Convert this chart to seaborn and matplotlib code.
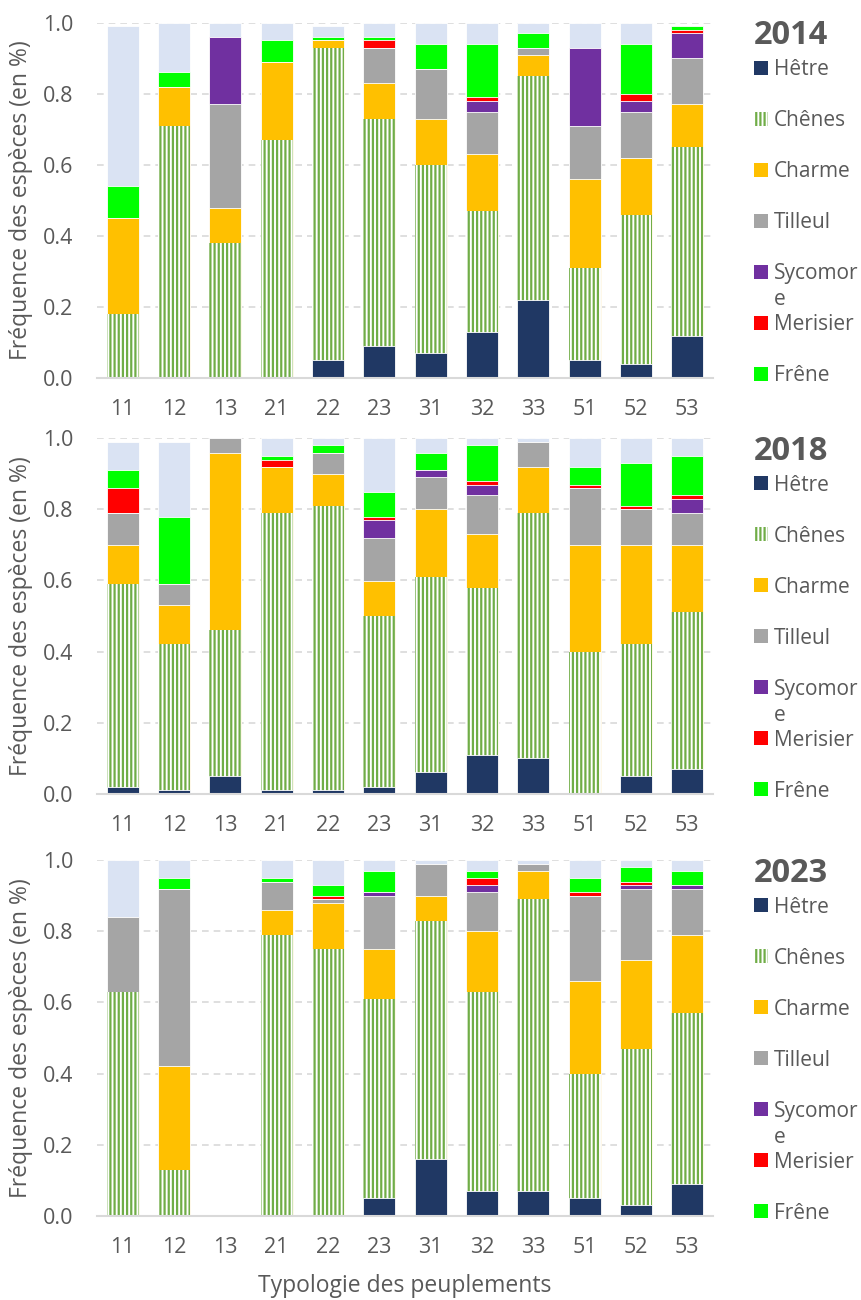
import numpy as np
import pandas as pd
import matplotlib.pyplot as plt
import seaborn as sns
from matplotlib.patches import Rectangle

# Typologies des peuplements (axe x)
typologies = ['11', '12', '13', '21', '22', '23', '31', '32', '33', '51', '52', '53']
especes = ['Hêtre', 'Chênes', 'Charme', 'Tilleul', 'Sycomore', 'Merisier', 'Frêne', 'Autres']

# Fréquences, une liste par espèce
freq_2014 = {
    'Hêtre':    [0, 0, 0, 0, .05, .09, .07, .13, .22, .05, .04, .12],
    'Chênes':   [.18, .71, .38, .67, .88, .64, .53, .34, .63, .26, .42, .53],
    'Charme':   [.27, .11, .10, .22, .02, .10, .13, .16, .06, .25, .16, .12],
    'Tilleul':  [0, 0, .29, 0, 0, .10, .14, .12, .02, .15, .13, .13],
    'Sycomore': [0, 0, .19, 0, 0, 0, 0, .03, 0, .22, .03, .07],
    'Merisier': [0, 0, 0, 0, 0, .02, 0, .01, 0, 0, .02, .01],
    'Frêne':    [.09, .04, 0, .06, .01, .01, .07, .15, .04, 0, .14, .01],
    'Autres':   [.45, .14, .04, .05, .03, .04, .06, .06, .03, .07, .06, 0],
}

freq_2018 = {
    'Hêtre':    [.02, .01, .05, .01, .01, .02, .06, .11, .10, 0, .05, .07],
    'Chênes':   [.57, .41, .41, .78, .80, .48, .55, .47, .69, .40, .37, .44],
    'Charme':   [.11, .11, .50, .13, .09, .10, .19, .15, .13, .30, .28, .19],
    'Tilleul':  [.09, .06, .04, 0, .06, .12, .09, .11, .07, .16, .10, .09],
    'Sycomore': [0, 0, 0, 0, 0, .05, .02, .03, 0, 0, 0, .04],
    'Merisier': [.07, 0, 0, .02, 0, .01, 0, .01, 0, .01, .01, .01],
    'Frêne':    [.05, .19, 0, .01, .02, .07, .05, .10, 0, .05, .12, .11],
    'Autres':   [.08, .21, 0, .05, .02, .15, .04, .02, .01, .08, .07, .05],
}

freq_2023 = {
    'Hêtre':    [0, 0, 0, 0, 0, .05, .16, .07, .07, .05, .03, .09],
    'Chênes':   [.63, .13, 0, .79, .75, .56, .67, .56, .82, .35, .44, .48],
    'Charme':   [0, .29, 0, .07, .13, .14, .07, .17, .08, .26, .25, .22],
    'Tilleul':  [.21, .50, 0, .08, .01, .15, .09, .11, .02, .24, .20, .13],
    'Sycomore': [0, 0, 0, 0, 0, .01, 0, .02, 0, 0, .01, .01],
    'Merisier': [0, 0, 0, 0, .01, 0, 0, .02, 0, .01, .01, 0],
    'Frêne':    [0, .03, 0, .01, .03, .06, 0, .02, 0, .04, .04, .04],
    'Autres':   [.16, .05, 0, .05, .07, .03, .01, .03, .01, .05, .02, .03],
}

couleurs = {
    'Hêtre': '#203864',
    'Chênes': '#70AD47',
    'Charme': '#FFC000',
    'Tilleul': '#A5A5A5',
    'Sycomore': '#7030A0',
    'Merisier': '#FF0000',
    'Frêne': '#00FF00',
    'Autres': '#DAE3F3',
}

gris_texte = '#595959'
gris_ligne = '#D9D9D9'

sns.set_style('white')
plt.rcParams['font.family'] = ['Open Sans', 'DejaVu Sans']
plt.rcParams['hatch.linewidth'] = 1.6

W, H = 862, 1300
fig = plt.figure(figsize=(W / 100, H / 100), dpi=100)

# (année, données, haut de l'axe en pixels)
panneaux = [('2014', freq_2014, 22.7), ('2018', freq_2018, 438.3), ('2023', freq_2023, 860.3)]
ax_h = 355.5
ax_w = 616

for annee, freq, top in panneaux:
    ax = fig.add_axes([97 / W, 1 - (top + ax_h) / H, ax_w / W, ax_h / H])
    df = pd.DataFrame(freq, index=typologies)[especes]
    cumul = df.cumsum(axis=1)

    # barres cumulées, dessinées du haut de la pile vers le bas
    for esp in reversed(especes):
        d = pd.DataFrame({'typo': typologies, 'val': cumul[esp].values})
        if esp == 'Chênes':
            sns.barplot(data=d, x='typo', y='val', order=typologies, color='white',
                        saturation=1, width=0.62, errorbar=None, ax=ax,
                        hatch='||||', edgecolor=couleurs[esp], linewidth=0)
        else:
            sns.barplot(data=d, x='typo', y='val', order=typologies, color=couleurs[esp],
                        saturation=1, width=0.62, errorbar=None, ax=ax,
                        edgecolor='white', linewidth=0.6)

    ax.set_ylim(0, 1)
    ax.set_xlim(-0.5, 11.5)
    ax.set_yticks(np.arange(0, 1.01, 0.2))
    ax.set_yticklabels([f'{v:.1f}' for v in np.arange(0, 1.01, 0.2)])
    ax.yaxis.grid(True, linestyle=(0, (4, 3)), color=gris_ligne, linewidth=1.2)
    ax.set_axisbelow(True)
    for s in ['left', 'right', 'top']:
        ax.spines[s].set_visible(False)
    ax.spines['bottom'].set_color(gris_ligne)
    ax.spines['bottom'].set_linewidth(1.5)
    ax.tick_params(length=0, labelsize=15.5, labelcolor=gris_texte)
    ax.tick_params(axis='x', pad=15)
    ax.tick_params(axis='y', pad=17)

    ax.set_ylabel('Fréquence des espèces (en %)', fontsize=16.5, color=gris_texte)
    ax.yaxis.set_label_coords(-0.104, 0.5)
    ax.set_xlabel('')

    # légende à droite
    def fy(px):
        return 1 - px / ax_h

    ax.text(1.066, fy(13), annee, transform=ax.transAxes, fontsize=23.5,
            fontweight='bold', color=gris_texte, ha='left', va='center')
    # "Sycomore" est coupé sur deux lignes comme dans l'original
    noms = ['Hêtre', 'Chênes', 'Charme', 'Tilleul', ['Sycomor', 'e'], 'Merisier', 'Frêne']
    for i, esp in enumerate(especes[:-1]):
        yc = 45 + 51 * i
        if esp == 'Chênes':
            r = Rectangle((1.067, fy(yc + 7)), 14 / ax_w, 14 / ax_h, transform=ax.transAxes,
                          facecolor='white', edgecolor=couleurs[esp], hatch='||||',
                          linewidth=0, clip_on=False)
        else:
            r = Rectangle((1.067, fy(yc + 7)), 14 / ax_w, 14 / ax_h, transform=ax.transAxes,
                          facecolor=couleurs[esp], linewidth=0, clip_on=False)
        ax.add_patch(r)
        lignes = noms[i] if isinstance(noms[i], list) else [noms[i]]
        for k, ligne in enumerate(lignes):
            ax.text(1.099, fy(yc + 7.5 + 26 * k), ligne, transform=ax.transAxes,
                    fontsize=15, color=gris_texte, ha='left', va='baseline')

ax.set_xlabel('Typologie des peuplements', fontsize=16.5, color=gris_texte, labelpad=12)

fig.savefig('out.png', dpi=100)
